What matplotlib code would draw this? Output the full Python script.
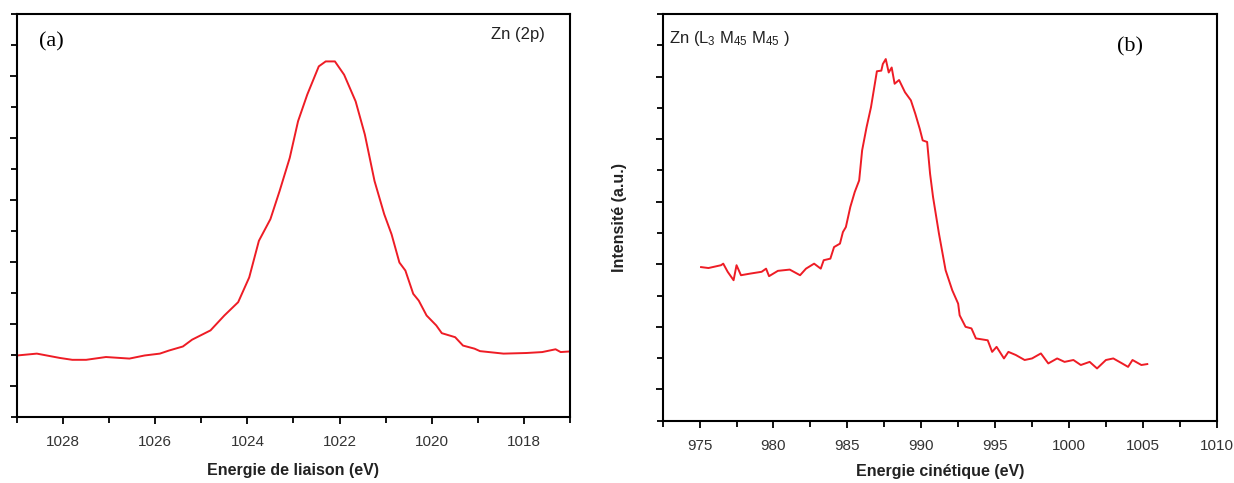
import matplotlib
matplotlib.use('Agg')
import matplotlib.pyplot as plt
from matplotlib.ticker import MultipleLocator, NullFormatter

plt.rcParams['font.family'] = ['Liberation Sans', 'DejaVu Sans']
plt.rcParams['mathtext.default'] = 'regular'

# Zn 2p spectrum (binding energy, eV) -- intensity in arbitrary units
be_ev = [1029.0, 1028.57, 1028.07, 1027.8, 1027.5, 1027.07, 1026.56, 1026.23, 1025.9, 1025.7,
         1025.4, 1025.2, 1024.8, 1024.5, 1024.2, 1023.96, 1023.75, 1023.5, 1023.3, 1023.08,
         1022.9, 1022.7, 1022.45, 1022.3, 1022.1, 1021.9, 1021.65, 1021.45, 1021.24, 1021.03,
         1020.87, 1020.7, 1020.57, 1020.4, 1020.28, 1020.11, 1019.9, 1019.78, 1019.49, 1019.32,
         1019.07, 1018.95, 1018.44, 1017.94, 1017.6, 1017.31, 1017.2, 1017.0]
be_int = [1.98, 2.04, 1.90, 1.84, 1.84, 1.93, 1.88, 1.98, 2.04, 2.14,
          2.27, 2.49, 2.79, 3.27, 3.70, 4.50, 5.68, 6.38, 7.29, 8.36,
          9.54, 10.40, 11.31, 11.47, 11.47, 11.04, 10.18, 9.11, 7.61, 6.54,
          5.89, 4.98, 4.72, 3.97, 3.75, 3.27, 2.95, 2.70, 2.57, 2.30,
          2.20, 2.12, 2.04, 2.06, 2.09, 2.18, 2.09, 2.11]

# Zn LMM Auger spectrum (kinetic energy, eV)
ke_ev = [975.1, 975.6, 976.45, 976.6, 976.9, 977.3, 977.5, 977.8, 978.4, 979.2,
         979.5, 979.7, 980.3, 981.1, 981.8, 982.2, 982.75, 983.2, 983.4, 983.85,
         984.1, 984.5, 984.7, 984.9, 985.2, 985.5, 985.8, 986.0, 986.3, 986.6,
         987.0, 987.3, 987.4, 987.6, 987.8, 988.0, 988.2, 988.5, 988.9, 989.3,
         989.6, 989.9, 990.1, 990.4, 990.6, 990.8, 991.2, 991.65, 992.1, 992.5,
         992.6, 993.0, 993.4, 993.7, 994.5, 994.8, 995.1, 995.6, 995.9, 996.4,
         997.0, 997.5, 998.1, 998.6, 999.2, 999.7, 1000.3, 1000.8, 1001.4, 1001.9,
         1002.5, 1003.0, 1003.6, 1004.0, 1004.3, 1004.9, 1005.3]
ke_int = [4.91, 4.88, 4.97, 5.02, 4.76, 4.49, 4.97, 4.65, 4.70, 4.76,
          4.86, 4.62, 4.79, 4.83, 4.65, 4.86, 5.02, 4.86, 5.13, 5.18,
          5.55, 5.66, 6.03, 6.19, 6.83, 7.31, 7.68, 8.64, 9.38, 10.02,
          11.17, 11.19, 11.40, 11.56, 11.13, 11.29, 10.77, 10.89, 10.50, 10.24,
          9.81, 9.33, 8.96, 8.91, 7.89, 7.15, 5.98, 4.81, 4.17, 3.74,
          3.37, 3.00, 2.95, 2.63, 2.57, 2.20, 2.36, 1.99, 2.20, 2.10,
          1.94, 1.99, 2.15, 1.83, 1.99, 1.88, 1.94, 1.78, 1.88, 1.67,
          1.94, 1.99, 1.83, 1.72, 1.94, 1.78, 1.81]

red = '#ee1c25'
tick_col = '#333333'

fig = plt.figure(figsize=(12.34, 4.83), dpi=100)
ax1 = fig.add_axes([0.0138, 0.137, 0.448, 0.834])
ax2 = fig.add_axes([0.537, 0.129, 0.449, 0.842])

for ax in (ax1, ax2):
    for s in ax.spines.values():
        s.set_linewidth(1.5)
    ax.set_ylim(0, 13)
    ax.yaxis.set_minor_locator(MultipleLocator(1))
    ax.set_yticks([1, 3, 5, 7, 9, 11])
    ax.yaxis.set_major_formatter(NullFormatter())
    ax.tick_params(which='both', direction='out', width=1.3, colors='black',
                   labelcolor=tick_col, labelsize=11, pad=8, top=False, right=False)
    ax.tick_params(which='major', length=5)
    ax.tick_params(which='minor', length=4)

ax1.plot(be_ev, be_int, color=red, lw=1.4)
ax1.set_xlim(1029, 1017)
ax1.xaxis.set_major_locator(MultipleLocator(2))
ax1.xaxis.set_minor_locator(MultipleLocator(1))
ax1.set_xlabel('Energie de liaison (eV)', fontsize=11.5, fontweight='bold',
               color='#222222', labelpad=10)
ax1.text(0.04, 0.93, '(a)', transform=ax1.transAxes, fontsize=16,
         family='Liberation Serif', va='center')
ax1.text(0.955, 0.95, 'Zn (2p)', transform=ax1.transAxes, fontsize=12,
         ha='right', va='center', color='#222222')

ax2.plot(ke_ev, ke_int, color=red, lw=1.4)
ax2.set_xlim(972.5, 1010)
ax2.xaxis.set_major_locator(MultipleLocator(5))
ax2.xaxis.set_minor_locator(MultipleLocator(2.5))
ax2.set_xlabel('Energie cinétique (eV)', fontsize=11.5, fontweight='bold',
               color='#222222', labelpad=8)
ax2.set_ylabel('Intensité (a.u.)', fontsize=11.5, fontweight='bold',
               color='#222222', labelpad=13)
ax2.text(0.82, 0.92, '(b)', transform=ax2.transAxes, fontsize=16,
         family='Liberation Serif', va='center')
ax2.text(0.012, 0.94, r'Zn (L$_{3}$ M$_{45}$ M$_{45}$ )', transform=ax2.transAxes,
         fontsize=12, va='center', color='#222222')

fig.savefig('out.png', dpi=100)
